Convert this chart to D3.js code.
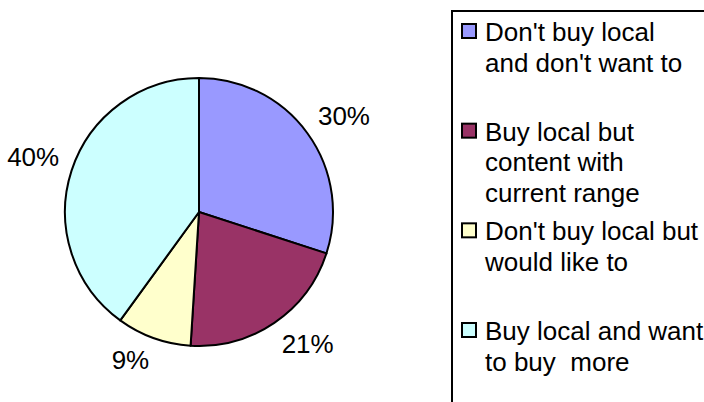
<!DOCTYPE html>
<html>
<head>
<meta charset="utf-8">
<script src="https://cdn.jsdelivr.net/npm/d3@7"></script>
<style>
  html, body { margin: 0; padding: 0; background: #fff; }
  svg { display: block; font-family: "Liberation Sans", Arial, sans-serif; }
</style>
</head>
<body>
<svg id="chart" width="704" height="402"></svg>
<script>
// Survey answers, in drawing order (clockwise from 12 o'clock)
const categories = [
  ["Don't buy local", "and don't want to"],
  ["Buy local but", "content with", "current range"],
  ["Don't buy local but", "would like to"],
  ["Buy local and want", "to buy  more"]
];
const values = [30, 21, 9, 40];
const valueLabels = ["30%", "21%", "9%", "40%"];
const colors = ["#9999FF", "#993366", "#FFFFCC", "#CCFFFF"];

const svg = d3.select("#chart");
const cx = 199, cy = 212, radius = 134;
const labelGap = 147;     // distance from centre to the label's nearest corner
const labelHalfH = 10;    // half the height of a percentage label
const fontSize = 26;

const pie = d3.pie().sort(null).value(d => d)(values);
const arc = d3.arc().innerRadius(0).outerRadius(radius);
const color = d3.scaleOrdinal().domain(d3.range(values.length)).range(colors);

const g = svg.append("g").attr("transform", `translate(${cx},${cy})`);

g.selectAll("path.slice")
  .data(pie)
  .join("path")
  .attr("class", "slice")
  .attr("d", arc)
  .attr("fill", (d, i) => color(i))
  .attr("stroke", "#000")
  .attr("stroke-width", 2)
  .attr("stroke-linejoin", "round");

// Percentage labels sit outside the rim: the corner nearest the pie
// touches a point on the slice's mid-angle ray.
g.selectAll("text.pct")
  .data(pie)
  .join("text")
  .attr("class", "pct")
  .each(function (d, i) {
    const a = (d.startAngle + d.endAngle) / 2;
    const s = Math.sin(a), c = Math.cos(a);
    const px = labelGap * s, py = -labelGap * c;
    d3.select(this)
      .attr("x", px)
      .attr("y", py + (c > 0 ? -labelHalfH : labelHalfH))
      .attr("text-anchor", s >= 0 ? "start" : "end");
  })
  .attr("dy", "0.35em")
  .attr("font-size", fontSize)
  .attr("fill", "#000")
  .text((d, i) => valueLabels[i]);

// Legend frame (runs off the right and bottom edges)
svg.append("rect")
  .attr("x", 452).attr("y", 11)
  .attr("width", 300).attr("height", 420)
  .attr("fill", "#fff")
  .attr("stroke", "#000")
  .attr("stroke-width", 2);

const itemY = d3.scalePoint().domain(d3.range(categories.length)).range([32, 331]);
const lineH = 30.5;

const items = svg.selectAll("g.item")
  .data(categories)
  .join("g")
  .attr("class", "item")
  .attr("transform", (d, i) => `translate(0,${itemY(i)})`);

items.append("rect")
  .attr("x", 462).attr("y", -8)
  .attr("width", 14).attr("height", 14)
  .attr("fill", (d, i) => color(i))
  .attr("stroke", "#000")
  .attr("stroke-width", 2);

items.append("text")
  .attr("font-size", fontSize)
  .attr("fill", "#000")
  .selectAll("tspan")
  .data(d => d)
  .join("tspan")
  .attr("x", 485)
  .attr("y", (d, j) => j * lineH)
  .attr("dy", "0.35em")
  .style("white-space", "pre")
  .text(d => d);
</script>
</body>
</html>
